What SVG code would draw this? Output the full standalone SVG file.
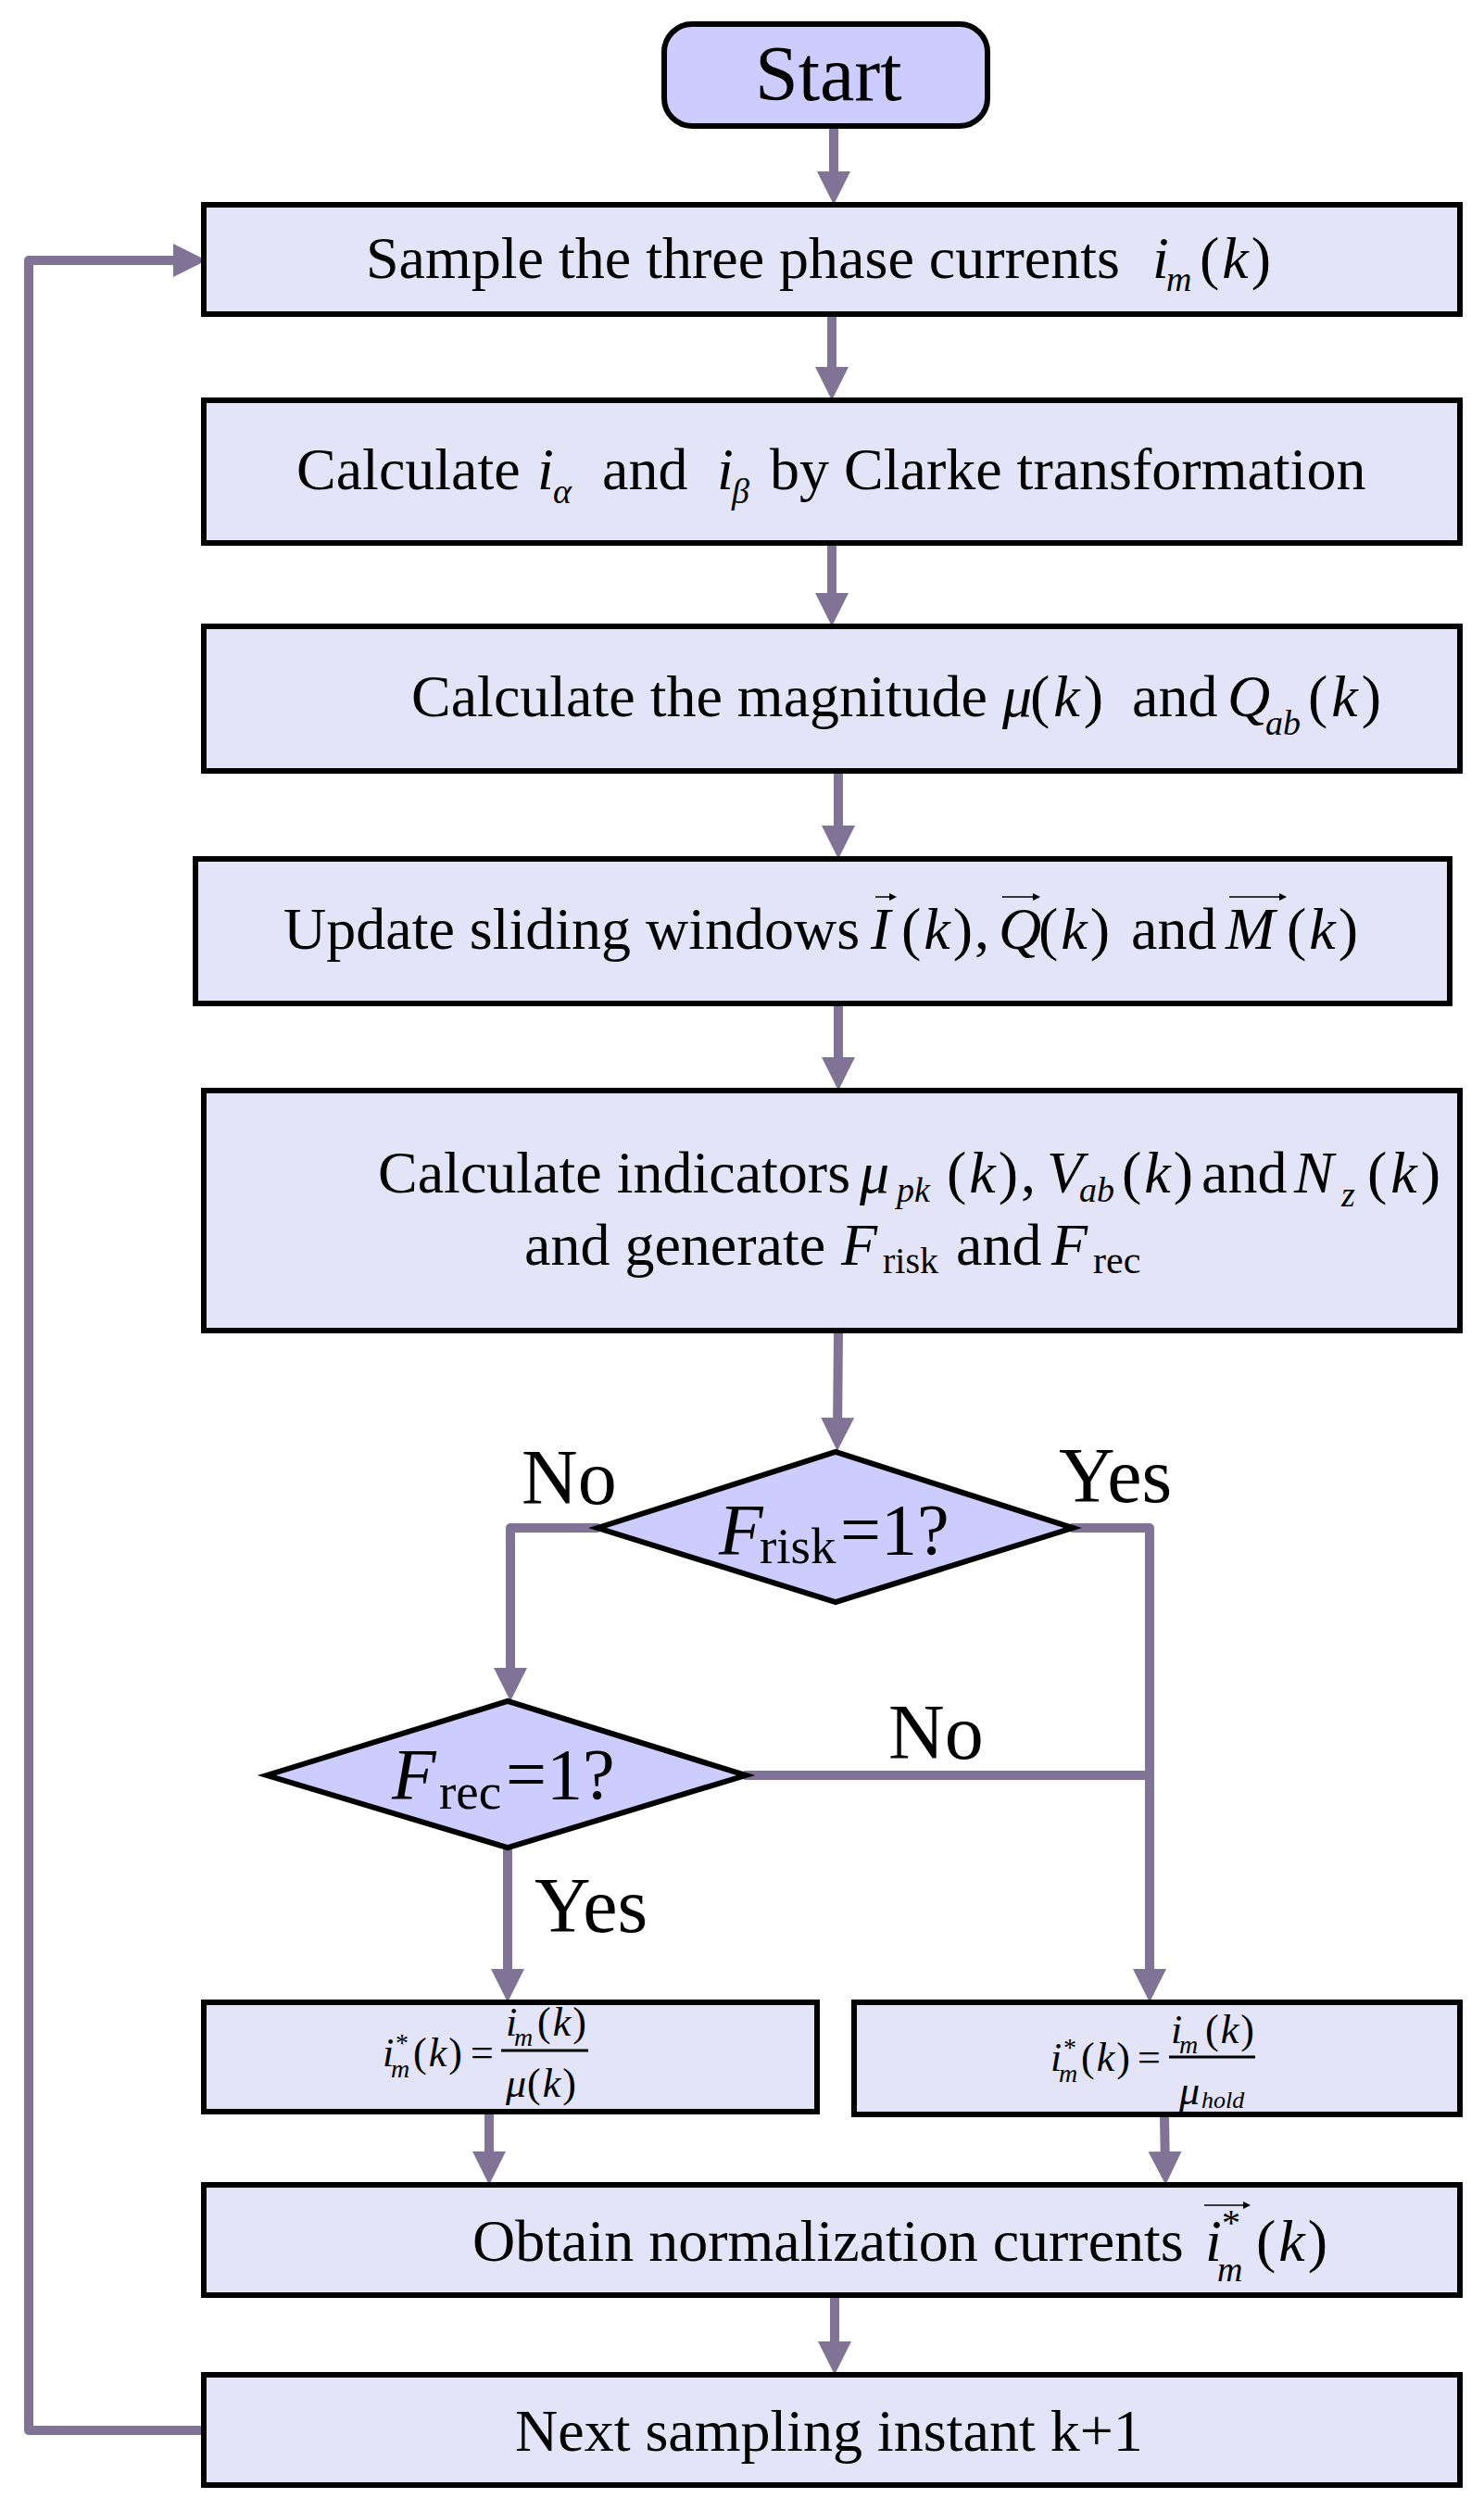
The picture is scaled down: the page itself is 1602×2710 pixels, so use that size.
<svg xmlns="http://www.w3.org/2000/svg" width="1602" height="2710" viewBox="0 0 1602 2710">
<defs>
<style>
.box{fill:#e3e4f8;stroke:#000;stroke-width:6}
.dec{fill:#ccccff;stroke:#000;stroke-width:6;stroke-linejoin:miter}
.t{font-family:"Liberation Serif","Times New Roman",serif;font-size:64px;fill:#000}
.i{font-style:italic}
.s{font-size:38px}
.lab{font-family:"Liberation Serif","Times New Roman",serif;font-size:84px;fill:#000}
.f{font-family:"Liberation Serif","Times New Roman",serif;font-size:44px;fill:#000}
.c{fill:none;stroke:#807395;stroke-width:10;stroke-linecap:round;stroke-linejoin:round}
.va{stroke:#000;stroke-width:1.6;fill:none}
.vh{fill:#000}
</style>
<marker id="ah" markerUnits="userSpaceOnUse" markerWidth="36" markerHeight="36" viewBox="0 0 36 36" refX="18" refY="18" orient="auto">
<path d="M0,0 L36,18 L0,36 z" fill="#807395"/>
</marker>
</defs>
<rect width="1602" height="2710" fill="#fff"/>

<g id="connectors">
<path class="c" d="M900,139 L900,203" marker-end="url(#ah)"/>
<path class="c" d="M898,342 L898,414" marker-end="url(#ah)"/>
<path class="c" d="M898,589 L898,658" marker-end="url(#ah)"/>
<path class="c" d="M905,835 L905,909" marker-end="url(#ah)"/>
<path class="c" d="M905,1086 L905,1159" marker-end="url(#ah)"/>
<path class="c" d="M905,1439 L904,1548" marker-end="url(#ah)"/>
<path class="c" d="M645,1649 L551,1649 L551,1818" marker-end="url(#ah)"/>
<path class="c" d="M1158,1649 L1241,1649 L1241,2143" marker-end="url(#ah)"/>
<path class="c" d="M805,1916 L1241,1916"/>
<path class="c" d="M548,1994 L548,2143" marker-end="url(#ah)"/>
<path class="c" d="M528,2282 L528,2340" marker-end="url(#ah)"/>
<path class="c" d="M1257,2285 L1258,2340" marker-end="url(#ah)"/>
<path class="c" d="M901,2480 L901,2545" marker-end="url(#ah)"/>
<path class="c" d="M220,2623 L31,2623 L31,281 L205,281" marker-end="url(#ah)"/>
</g>

<g id="start">
<rect x="717" y="26" width="349" height="110" rx="30" fill="#ccccff" stroke="#000" stroke-width="6"/>
<text class="t" x="815" y="108" style="font-size:84px">Start</text>
</g>

<g id="sample">
<rect class="box" x="220" y="221" width="1356" height="118"/>
<text class="t" y="300"><tspan x="395">Sample the three phase currents</tspan><tspan x="1244" class="i">i</tspan><tspan x="1259" y="314" class="i s">m</tspan><tspan x="1295" y="300">(</tspan><tspan class="i" dx="3">k</tspan><tspan dx="3">)</tspan></text>
</g>

<g id="clarke">
<rect class="box" x="220" y="432" width="1356" height="154"/>
<text class="t" y="528"><tspan x="320">Calculate</tspan><tspan x="580" class="i">i</tspan><tspan x="597" y="543" class="i s">α</tspan><tspan x="650" y="528">and</tspan><tspan x="774" class="i">i</tspan><tspan x="790" y="543" class="i s">β</tspan><tspan x="831" y="528">by Clarke transformation</tspan></text>
</g>

<g id="magnitude">
<rect class="box" x="220" y="676" width="1356" height="156"/>
<text class="t" y="773"><tspan x="444">Calculate the magnitude</tspan><tspan x="1082" class="i">μ</tspan><tspan x="1112">(</tspan><tspan class="i" dx="4">k</tspan><tspan dx="4">)</tspan><tspan x="1222">and</tspan><tspan x="1325" class="i">Q</tspan><tspan x="1366" y="793" class="i s">ab</tspan><tspan x="1412" y="773">(</tspan><tspan class="i" dx="4">k</tspan><tspan dx="4">)</tspan></text>
</g>

<g id="windows">
<rect class="box" x="211" y="927" width="1354" height="156"/>
<text class="t" y="1024"><tspan x="306">Update sliding windows</tspan><tspan x="940" class="i">I</tspan><tspan x="973">(</tspan><tspan class="i" dx="3">k</tspan><tspan dx="3">)</tspan><tspan x="1052">,</tspan><tspan x="1078" class="i">Q</tspan><tspan x="1121">(</tspan><tspan class="i" dx="3">k</tspan><tspan dx="3">)</tspan><tspan x="1221">and</tspan><tspan x="1323" class="i">M</tspan><tspan x="1389">(</tspan><tspan class="i" dx="3">k</tspan><tspan dx="3">)</tspan></text>
<path class="va" d="M945,968 L962,968 M1082,968 L1117,968 M1327,968 L1383,968"/>
<path class="vh" d="M960,964 L968,968 L960,972 z M1115,964 L1123,968 L1115,972 z M1381,964 L1389,968 L1381,972 z"/>
</g>

<g id="indicators">
<rect class="box" x="220" y="1177" width="1356" height="259"/>
<text class="t" y="1287"><tspan x="408">Calculate indicators</tspan><tspan x="928" class="i">μ</tspan><tspan x="968" y="1297" class="i s">pk</tspan><tspan x="1022" y="1287">(</tspan><tspan class="i" dx="3">k</tspan><tspan dx="3">)</tspan><tspan x="1102">,</tspan><tspan x="1130" class="i">V</tspan><tspan x="1165" y="1297" class="i s">ab</tspan><tspan x="1211" y="1287">(</tspan><tspan class="i" dx="3">k</tspan><tspan dx="3">)</tspan><tspan x="1297">and</tspan><tspan x="1397" class="i">N</tspan><tspan x="1448" y="1302" class="i s">z</tspan><tspan x="1476" y="1287">(</tspan><tspan class="i" dx="4">k</tspan><tspan dx="4">)</tspan></text>
<text class="t" y="1365"><tspan x="566">and generate</tspan><tspan x="908" class="i">F</tspan><tspan x="953" y="1374" style="font-size:40px">risk</tspan><tspan x="1032" y="1365">and</tspan><tspan x="1135" class="i">F</tspan><tspan x="1180" y="1374" style="font-size:42px">rec</tspan></text>
</g>

<g id="risk">
<polygon class="dec" points="645,1649 902,1567 1158,1649 902,1729"/>
<text class="t" y="1677" style="font-size:78px"><tspan x="776" class="i">F</tspan><tspan x="820" y="1687" style="font-size:55px">risk</tspan><tspan x="907" y="1677">=1?</tspan></text>
</g>

<g id="rec">
<polygon class="dec" points="288,1916 548,1836 805,1916 548,1994"/>
<text class="t" y="1941" style="font-size:78px"><tspan x="423" class="i">F</tspan><tspan x="474" y="1952" style="font-size:55px">rec</tspan><tspan x="546" y="1941">=1?</tspan></text>
</g>

<g id="labels">
<text class="lab" x="563" y="1623">No</text>
<text class="lab" x="1143" y="1621">Yes</text>
<text class="lab" x="959" y="1898">No</text>
<text class="lab" x="577" y="2085">Yes</text>
</g>

<g id="norm-mu">
<rect class="box" x="220" y="2161" width="662" height="118"/>
<text class="f" y="2230"><tspan x="413" class="i">i</tspan><tspan x="427" y="2214" style="font-size:28px">*</tspan><tspan x="422" y="2242" class="i" style="font-size:28px">m</tspan><tspan x="446" y="2230">(</tspan><tspan class="i" dx="2">k</tspan><tspan dx="2">)</tspan><tspan x="508">=</tspan></text>
<text class="f" y="2197"><tspan x="546" class="i">i</tspan><tspan x="555" y="2208" class="i" style="font-size:28px">m</tspan><tspan x="580" y="2197">(</tspan><tspan class="i" dx="2">k</tspan><tspan dx="2">)</tspan></text>
<line x1="541" y1="2213" x2="635" y2="2213" stroke="#000" stroke-width="3"/>
<text class="f" y="2263"><tspan x="546" class="i">μ</tspan><tspan x="569">(</tspan><tspan class="i" dx="2">k</tspan><tspan dx="2">)</tspan></text>
</g>

<g id="norm-hold">
<rect class="box" x="922" y="2161" width="654" height="121"/>
<text class="f" y="2235"><tspan x="1134" class="i">i</tspan><tspan x="1148" y="2219" style="font-size:28px">*</tspan><tspan x="1143" y="2247" class="i" style="font-size:28px">m</tspan><tspan x="1167" y="2235">(</tspan><tspan class="i" dx="2">k</tspan><tspan dx="2">)</tspan><tspan x="1228">=</tspan></text>
<text class="f" y="2205"><tspan x="1264" class="i">i</tspan><tspan x="1273" y="2216" class="i" style="font-size:28px">m</tspan><tspan x="1301" y="2205">(</tspan><tspan class="i" dx="2">k</tspan><tspan dx="2">)</tspan></text>
<line x1="1262" y1="2220" x2="1355" y2="2220" stroke="#000" stroke-width="3"/>
<text class="f" y="2271"><tspan x="1273" class="i">μ</tspan><tspan x="1297" y="2275" class="i" style="font-size:26px">hold</tspan></text>
</g>

<g id="obtain">
<rect class="box" x="220" y="2358" width="1356" height="119"/>
<text class="t" y="2440"><tspan x="510">Obtain normalization currents</tspan><tspan x="1301" class="i">i</tspan><tspan x="1319" y="2412" style="font-size:40px">*</tspan><tspan x="1314" y="2462" class="i s">m</tspan><tspan x="1356" y="2440">(</tspan><tspan class="i" dx="3">k</tspan><tspan dx="3">)</tspan></text>
<path class="va" d="M1300,2380 L1344,2380"/>
<path class="vh" d="M1342,2376 L1350,2380 L1342,2384 z"/>
</g>

<g id="next">
<rect class="box" x="220" y="2563" width="1356" height="119"/>
<text class="t" x="556" y="2645">Next sampling instant k+1</text>
</g>
</svg>
